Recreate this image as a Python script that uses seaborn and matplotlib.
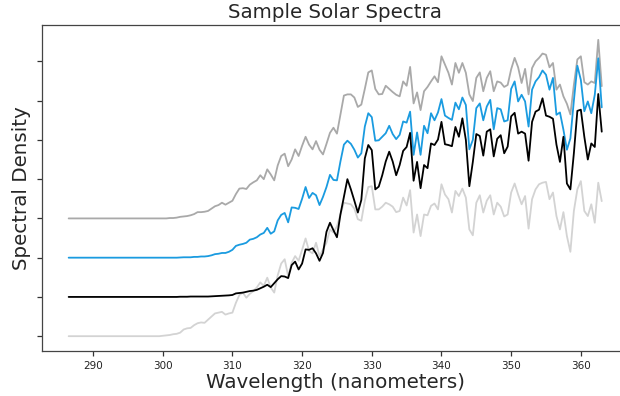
import numpy as np
import pandas as pd
import seaborn as sns
import matplotlib.pyplot as plt

# wavelength grid in nanometers (0.5 nm steps)
wavelength = np.arange(286.5, 363.25, 0.5)

# spectral density readings above each curve's own baseline
upper_gray = [
    0, 0, 0, 0, 0, 0, 0, 0, 0, 0,
    0, 0, 0, 0, 0, 0, 0, 0, 0, 0,
    0, 0, 0, 0, 0, 0, 0,
    0.00, 0.00, 0.01, 0.01, 0.02, 0.04, 0.05, 0.06, 0.08, 0.11,
    0.16, 0.16, 0.17, 0.19, 0.25, 0.31, 0.34, 0.40, 0.35, 0.40,
    0.45, 0.62, 0.76, 0.77, 0.75, 0.86, 0.92, 0.97, 1.10, 1.00,
    1.25, 1.12, 0.97, 1.35, 1.59, 1.65, 1.33, 1.50, 1.76, 1.59,
    1.85, 2.08, 1.88, 1.76, 1.97, 1.75, 1.63, 1.90, 2.18, 2.31,
    2.16, 2.65, 3.13, 3.16, 3.16, 3.08, 2.84, 2.90, 3.30, 3.72,
    3.77, 3.30, 3.16, 3.17, 3.38, 3.30, 3.22, 3.15, 3.11, 3.49,
    3.38, 3.86, 2.93, 3.21, 2.76, 3.24, 3.35, 3.49, 3.62, 3.47,
    4.13, 3.92, 3.71, 3.41, 3.96, 3.71, 3.96, 3.71, 3.16, 2.99,
    3.58, 3.72, 3.24, 3.58, 3.75, 3.24, 3.49, 3.46, 3.35, 3.40,
    3.80, 4.09, 3.85, 3.45, 3.81, 3.16, 3.83, 4.00, 4.09, 4.20,
    4.17, 3.85, 3.96, 3.28, 3.41, 3.11, 2.92, 2.65, 3.40, 4.05,
    4.13, 3.47, 3.41, 3.49, 3.45, 4.55, 3.37,
]

blue = [
    0, 0, 0, 0, 0, 0, 0, 0, 0, 0,
    0, 0, 0, 0, 0, 0, 0, 0, 0, 0,
    0, 0, 0, 0, 0, 0, 0,
    0.00, 0.00, 0.00, 0.00, 0.00, 0.005, 0.01, 0.01, 0.01, 0.02,
    0.02, 0.03, 0.03, 0.04, 0.06, 0.09, 0.10, 0.12, 0.12, 0.15,
    0.20, 0.30, 0.33, 0.35, 0.38, 0.46, 0.48, 0.52, 0.59, 0.63,
    0.76, 0.61, 0.67, 0.95, 1.09, 1.14, 0.90, 1.28, 1.27, 1.24,
    1.50, 1.80, 1.52, 1.65, 1.59, 1.34, 1.55, 1.80, 2.11, 1.98,
    1.97, 2.45, 2.88, 2.98, 2.90, 2.75, 2.55, 2.66, 3.34, 3.68,
    3.58, 2.98, 2.99, 3.08, 3.17, 3.36, 3.15, 3.02, 3.13, 3.47,
    3.44, 3.72, 2.62, 3.19, 2.62, 3.36, 3.17, 3.68, 3.50, 3.70,
    4.04, 3.62, 3.56, 3.51, 3.95, 3.78, 4.08, 3.89, 2.76, 3.00,
    3.81, 3.93, 3.50, 3.85, 4.02, 3.27, 3.81, 3.78, 3.47, 3.50,
    4.30, 4.49, 3.98, 4.15, 3.98, 3.34, 4.28, 4.49, 4.60, 4.77,
    4.66, 4.28, 4.58, 3.64, 3.70, 3.26, 2.75, 3.04, 4.00, 4.89,
    4.53, 3.73, 3.98, 3.68, 4.15, 5.08, 3.83,
]

black = [
    0, 0, 0, 0, 0, 0, 0, 0, 0, 0,
    0, 0, 0, 0, 0, 0, 0, 0, 0, 0,
    0, 0, 0, 0, 0, 0, 0,
    0.00, 0.00, 0.00, 0.00, 0.00, 0.005, 0.005, 0.005, 0.01, 0.01,
    0.01, 0.01, 0.01, 0.01, 0.015, 0.02, 0.025, 0.03, 0.035, 0.04,
    0.05, 0.09, 0.10, 0.11, 0.13, 0.15, 0.16, 0.18, 0.22, 0.26,
    0.31, 0.25, 0.35, 0.45, 0.53, 0.52, 0.48, 0.81, 0.90, 0.70,
    0.85, 1.21, 1.20, 1.24, 1.11, 0.92, 1.12, 1.66, 1.89, 1.70,
    1.52, 2.10, 2.55, 3.00, 2.74, 2.45, 2.15, 2.47, 3.53, 3.87,
    3.74, 2.74, 2.81, 3.10, 3.45, 3.70, 3.45, 3.10, 3.36, 3.72,
    3.82, 4.18, 2.96, 3.44, 2.77, 3.36, 3.28, 3.91, 3.87, 4.01,
    4.46, 3.89, 3.87, 3.84, 4.33, 4.08, 4.55, 4.00, 2.82, 3.44,
    4.15, 4.10, 3.60, 4.21, 4.27, 3.58, 4.03, 4.12, 3.66, 3.83,
    4.60, 4.69, 4.16, 4.21, 4.16, 3.47, 4.46, 4.72, 4.77, 5.06,
    4.62, 4.59, 4.54, 3.88, 3.44, 4.08, 2.89, 2.74, 3.66, 4.74,
    4.77, 4.08, 3.50, 3.91, 3.82, 5.17, 4.21,
]

light_gray = [
    0, 0, 0, 0, 0, 0, 0, 0, 0, 0,
    0, 0, 0, 0, 0, 0, 0, 0, 0, 0,
    0, 0, 0, 0, 0, 0, 0,
    0.01, 0.02, 0.03, 0.05, 0.06, 0.09, 0.17, 0.20, 0.21, 0.28,
    0.33, 0.35, 0.34, 0.42, 0.50, 0.58, 0.60, 0.62, 0.55, 0.58,
    0.60, 0.85, 1.05, 1.11, 0.98, 1.08, 1.15, 1.24, 1.37, 1.28,
    1.49, 1.24, 1.11, 1.55, 1.85, 1.96, 1.53, 1.87, 2.04, 1.92,
    2.20, 2.49, 2.17, 2.11, 2.38, 2.04, 2.21, 2.38, 2.72, 2.64,
    2.80, 3.10, 3.40, 3.38, 3.36, 3.25, 2.98, 2.94, 3.45, 3.80,
    3.82, 3.23, 3.23, 3.30, 3.40, 3.36, 3.30, 3.16, 3.19, 3.53,
    3.33, 3.72, 2.64, 3.10, 2.55, 3.10, 3.08, 3.32, 3.38, 3.23,
    3.87, 3.61, 3.49, 3.15, 3.70, 3.57, 3.76, 3.53, 2.72, 2.57,
    3.40, 3.59, 3.15, 3.45, 3.59, 3.10, 3.40, 3.30, 3.05, 3.10,
    3.66, 3.89, 3.61, 3.36, 3.57, 2.74, 3.49, 3.74, 3.87, 3.91,
    3.93, 3.49, 3.66, 3.06, 2.72, 3.16, 2.55, 2.15, 3.19, 3.74,
    3.95, 3.19, 3.06, 3.36, 2.89, 3.91, 3.44,
]

series_names = ["light_gray", "upper_gray", "blue", "black"]
series_values = [light_gray, upper_gray, blue, black]
offsets = [0, 3, 2, 1]
colors = {"light_gray": "#d3d3d3", "upper_gray": "#a9a9a9",
          "blue": "#1a9be0", "black": "#000000"}

frames = []
for name, vals, off in zip(series_names, series_values, offsets):
    frames.append(pd.DataFrame({
        "wavelength": wavelength,
        "density": np.asarray(vals) + off,
        "series": name,
    }))
df = pd.concat(frames, ignore_index=True)

sns.set_style("ticks")
plt.rcParams["font.family"] = ["DejaVu Sans"]

fig = plt.figure(figsize=(6.2, 3.96), dpi=100)
ax = fig.add_axes([42 / 620, 45 / 396, (628.4 - 42) / 620, 326 / 396])

sns.lineplot(data=df, x="wavelength", y="density", hue="series",
             hue_order=series_names, palette=colors, linewidth=1.3,
             legend=False, ax=ax)

ax.set_xlim(282.675, 366.825)
ax.set_ylim(-0.3775, 7.9275)
ax.set_xticks(range(290, 361, 10))
ax.set_yticks(range(8))
ax.tick_params(axis="y", labelleft=False, length=3.5, width=0.9, color="#333333")
ax.tick_params(axis="x", labelsize=7.5, length=3.5, width=0.9, color="#333333",
               labelcolor="#222222", pad=3.5)
for side in ["left", "bottom", "top", "right"]:
    ax.spines[side].set_visible(True)
    ax.spines[side].set_color("#444444")
    ax.spines[side].set_linewidth(0.9)

ax.set_title("Sample Solar Spectra", fontsize=14.3, pad=5)
ax.set_xlabel("Wavelength (nanometers)", fontsize=14.3, labelpad=2)
ax.set_ylabel("Spectral Density", fontsize=14.3, labelpad=4.5)

fig.savefig("out.png", dpi=100)
